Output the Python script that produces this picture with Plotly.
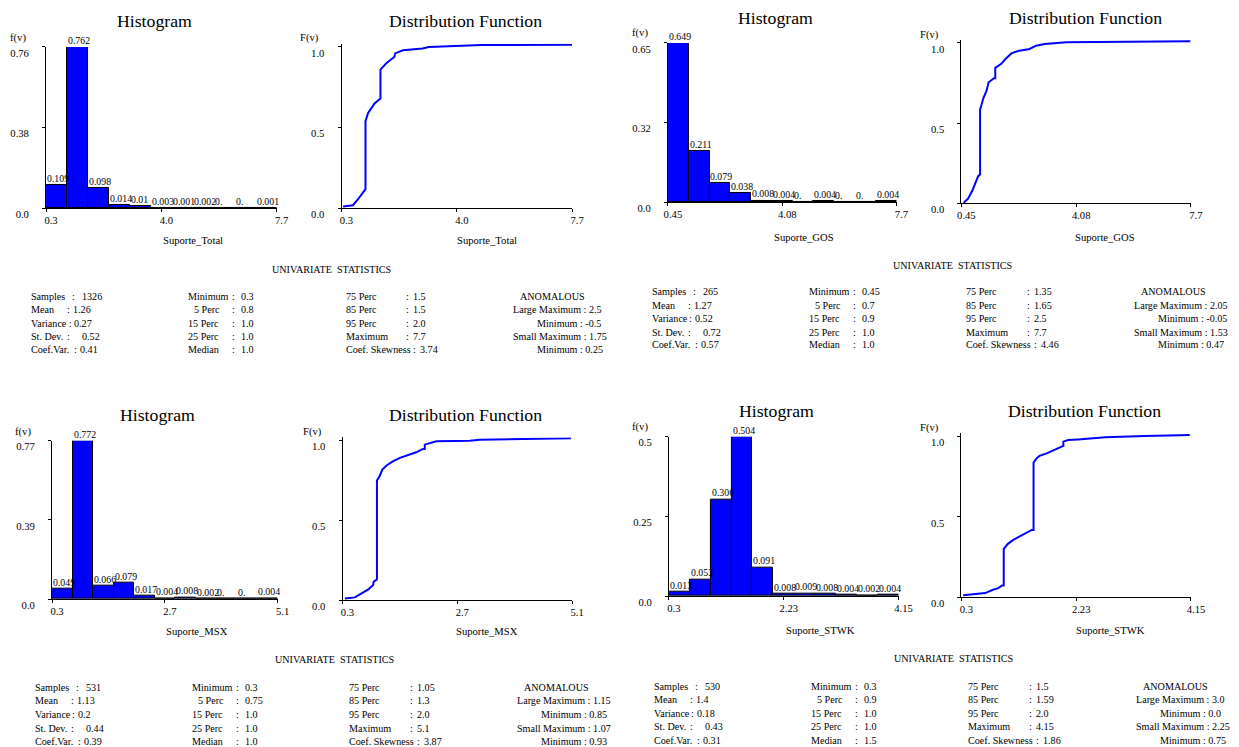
import plotly.graph_objects as go

W, H = 1239, 747
FONT = "Liberation Serif, Times New Roman, serif"
BLUE = "#0000FF"

# ---------------- data ----------------
var_names = ["Suporte_Total", "Suporte_GOS", "Suporte_MSX", "Suporte_STWK"]
x_min = [0.3, 0.45, 0.3, 0.3]
x_max = [7.7, 7.7, 5.1, 4.15]
x_tick_text = [["0.3", "4.0", "7.7"], ["0.45", "4.08", "7.7"],
               ["0.3", "2.7", "5.1"], ["0.3", "2.23", "4.15"]]
hist_y_tick_text = [["0.0", "0.38", "0.76"], ["0.0", "0.32", "0.65"],
                    ["0.0", "0.39", "0.77"], ["0.0", "0.25", "0.5"]]
cdf_y_tick_text = ["0.0", "0.5", "1.0"]

hist_total = [0.109, 0.762, 0.098, 0.014, 0.01, 0.003, 0.001, 0.002, 0.0, 0.0, 0.001]
hist_gos = [0.649, 0.211, 0.079, 0.038, 0.008, 0.004, 0.0, 0.004, 0.0, 0.0, 0.004]
hist_msx = [0.049, 0.772, 0.066, 0.079, 0.017, 0.004, 0.008, 0.002, 0.0, 0.0, 0.004]
hist_stwk = [0.013, 0.053, 0.306, 0.504, 0.091, 0.008, 0.009, 0.008, 0.004, 0.002, 0.004]

cdf_total_x = [0.35, 0.67, 0.83, 0.97, 1.05, 1.07, 1.07, 1.15, 1.36, 1.52, 1.55, 1.55,
               1.74, 2.0, 2.02, 2.27, 2.9, 3.1, 4.8, 7.7]
cdf_total_F = [0.012, 0.02, 0.057, 0.098, 0.12, 0.12, 0.54, 0.59, 0.65, 0.68, 0.68, 0.86,
               0.90, 0.94, 0.96, 0.98, 0.99, 1.0, 1.012, 1.014]
cdf_gos_x = [0.52, 0.66, 0.79, 0.89, 0.98, 1.04, 1.04, 1.08, 1.15, 1.24, 1.31, 1.48,
             1.52, 1.52, 1.71, 1.84, 2.03, 2.24, 2.6, 2.81, 3.08, 3.76, 5.6, 7.68]
cdf_gos_F = [0.004, 0.03, 0.077, 0.13, 0.17, 0.18, 0.585, 0.61, 0.66, 0.70, 0.755, 0.78,
             0.78, 0.845, 0.87, 0.90, 0.935, 0.95, 0.963, 0.983, 0.994, 1.004, 1.008, 1.01]
cdf_msx_x = [0.35, 0.56, 0.70, 0.84, 0.94, 0.95, 1.02, 1.02, 1.08, 1.13, 1.22, 1.36,
             1.50, 1.71, 1.84, 1.98, 2.02, 2.02, 2.12, 2.26, 2.96, 3.17, 5.08]
cdf_msx_F = [0.01, 0.017, 0.042, 0.067, 0.094, 0.115, 0.13, 0.75, 0.78, 0.817, 0.844, 0.871,
             0.892, 0.912, 0.927, 0.948, 0.948, 0.975, 0.983, 0.996, 1.0, 1.006, 1.015]
cdf_stwk_x = [0.33, 0.55, 0.70, 0.83, 0.92, 0.98, 1.01, 1.01, 1.08, 1.17, 1.25, 1.36,
              1.48, 1.51, 1.51, 1.56, 1.61, 1.73, 1.87, 2.0, 2.01, 2.01, 2.09, 2.26,
              2.71, 3.38, 4.13]
cdf_stwk_F = [0.012, 0.017, 0.025, 0.046, 0.056, 0.073, 0.073, 0.30, 0.332, 0.357, 0.373,
              0.398, 0.419, 0.419, 0.838, 0.865, 0.88, 0.896, 0.921, 0.942, 0.942, 0.969,
              0.979, 0.983, 0.996, 1.004, 1.01]

stat_labels_1 = ["Samples", "Mean", "Variance", "St. Dev.", "Coef.Var."]
stat_labels_2 = ["Minimum", "5 Perc", "15 Perc", "25 Perc", "Median"]
stat_labels_3 = ["75 Perc", "85 Perc", "95 Perc", "Maximum", "Coef. Skewness"]
stat_labels_4 = ["Large Maximum", "Minimum", "Small Maximum", "Minimum"]

stats_total = [["1326", "1.26", "0.27", "0.52", "0.41"],
               ["0.3", "0.8", "1.0", "1.0", "1.0"],
               ["1.5", "1.5", "2.0", "7.7", "3.74"],
               ["2.5", "-0.5", "1.75", "0.25"]]
stats_gos = [["265", "1.27", "0.52", "0.72", "0.57"],
             ["0.45", "0.7", "0.9", "1.0", "1.0"],
             ["1.35", "1.65", "2.5", "7.7", "4.46"],
             ["2.05", "-0.05", "1.53", "0.47"]]
stats_msx = [["531", "1.13", "0.2", "0.44", "0.39"],
             ["0.3", "0.75", "1.0", "1.0", "1.0"],
             ["1.05", "1.3", "2.0", "5.1", "3.87"],
             ["1.15", "0.85", "1.07", "0.93"]]
stats_stwk = [["530", "1.4", "0.18", "0.43", "0.31"],
              ["0.3", "0.9", "1.0", "1.0", "1.5"],
              ["1.5", "1.59", "2.0", "4.15", "1.86"],
              ["3.0", "0.0", "2.25", "0.75"]]

hists = [hist_total, hist_gos, hist_msx, hist_stwk]
cdfs = [(cdf_total_x, cdf_total_F), (cdf_gos_x, cdf_gos_F),
        (cdf_msx_x, cdf_msx_F), (cdf_stwk_x, cdf_stwk_F)]
stats = [stats_total, stats_gos, stats_msx, stats_stwk]

# ---------------- layout (target pixels in the picture) ----------------
hist_boxes = [(46, 277, 209, 47), (669, 898, 203, 43), (52, 278, 601, 442), (670, 900, 598, 438)]
cdf_boxes = [(342, 573, 209, 47), (963, 1193, 204, 43), (343, 573, 602, 442), (963, 1193, 599, 438)]
hist_titles = [(155, 21), (777, 18), (158, 416), (778, 412)]
cdf_titles = [(466, 21), (1087, 18), (466, 416), (1086, 412)]
hist_fv = [(8, 38), (631, 33), (13, 433), (631, 428)]
cdf_fv = [(298, 38), (920, 35), (301, 433), (920, 429)]
hist_xlab = [(193, 241), (805, 238), (197, 634), (822, 632)]
cdf_xlab = [(488, 241), (1107, 238), (488, 634), (1112, 632)]
stat_x0 = [-2, 620, 2, 622]
stat_header = [(332, 270), (954, 266), (335, 662), (955, 661)]
stat_rows_y = [[297, 310, 324, 338, 351], [292, 306, 319, 333, 346],
               [690, 703, 717, 731, 744], [689, 702, 716, 729, 743]]

CDF_TOP = 1.02
# the page keeps the browser's 8px body margin and is fitted to the window width
S = (W + 16) / W
OFF = 8
XSH = -4


def px(r):
    return ((r + XSH) * S - OFF) / W


def py(r):
    return 1 - (r * S - OFF) / H


def fs(v):
    return v * S


fig = go.Figure()
annotations = []
axes = {}


def txt(x, y, s, size=10, xanchor="left", yanchor="middle"):
    annotations.append(dict(x=px(x), y=py(y), xref="paper", yref="paper", text=s,
                            showarrow=False, xanchor=xanchor, yanchor=yanchor,
                            font=dict(family=FONT, size=fs(size), color="black")))


def axis_common():
    return dict(showline=True, linecolor="black", linewidth=1, ticks="outside",
                ticklen=3, tickcolor="black", tickwidth=1, showgrid=False, zeroline=False,
                tickfont=dict(family=FONT, size=fs(10.5), color="black"), fixedrange=True)


for i in range(4):
    # ---------- histogram ----------
    n = 2 * i + 1
    xr = "x" if n == 1 else f"x{n}"
    yr = "y" if n == 1 else f"y{n}"
    x0p, x1p, y0p, y1p = hist_boxes[i]
    vals = hists[i]
    nb = len(vals)
    bw = (x_max[i] - x_min[i]) / nb
    lefts = [x_min[i] + k * bw for k in range(nb)]
    centers = [l + bw / 2 for l in lefts]
    fig.add_trace(go.Bar(x=centers, y=vals, width=[bw] * nb, xaxis=xr, yaxis=yr,
                         marker=dict(color=BLUE, line=dict(color="black", width=1)),
                         cliponaxis=False, showlegend=False, hoverinfo="skip"))
    ymax = max(vals)
    for l, v in zip(lefts, vals):
        lab = "0." if v == 0 else f"{v:g}"
        annotations.append(dict(x=l, y=v, xref=xr, yref=yr, text=lab, showarrow=False,
                                xanchor="left", yanchor="bottom", xshift=-1, yshift=-1,
                                font=dict(family=FONT, size=fs(9.7), color="black")))
    xa = axis_common()
    xa.update(domain=[px(x0p), px(x1p)], range=[x_min[i], x_max[i]], anchor=yr,
              tickvals=[x_min[i], (x_min[i] + x_max[i]) / 2, x_max[i]],
              ticktext=x_tick_text[i], ticklabelshift=5, ticklabelstandoff=-1)
    ya = axis_common()
    ya.update(domain=[py(y0p), py(y1p)], range=[0, ymax], anchor=xr,
              tickvals=[0, ymax / 2, ymax], ticktext=hist_y_tick_text[i],
              ticklabelshift=6, ticklabelstandoff=11)
    axes["xaxis" if n == 1 else f"xaxis{n}"] = xa
    axes["yaxis" if n == 1 else f"yaxis{n}"] = ya
    txt(*hist_titles[i], "Histogram", size=17.5, xanchor="center")
    txt(*hist_fv[i], "f(v)", size=10.5)
    txt(*hist_xlab[i], var_names[i], size=10.5, xanchor="center")

    # ---------- distribution function ----------
    n = 2 * i + 2
    xr = f"x{n}"
    yr = f"y{n}"
    x0p, x1p, y0p, y1p = cdf_boxes[i]
    top = y1p - (CDF_TOP - 1) * (y0p - y1p)
    cx, cF = cdfs[i]
    fig.add_trace(go.Scatter(x=cx, y=cF, mode="lines", xaxis=xr, yaxis=yr,
                             line=dict(color=BLUE, width=2), showlegend=False,
                             hoverinfo="skip"))
    xa = axis_common()
    xa.update(domain=[px(x0p), px(x1p)], range=[x_min[i], x_max[i]], anchor=yr,
              tickvals=[x_min[i], (x_min[i] + x_max[i]) / 2, x_max[i]],
              ticktext=x_tick_text[i], ticklabelshift=5, ticklabelstandoff=-1)
    ya = axis_common()
    ya.update(domain=[py(y0p), py(top)], range=[0, CDF_TOP], anchor=xr,
              tickvals=[0, 0.5, 1.0], ticktext=cdf_y_tick_text,
              ticklabelshift=6, ticklabelstandoff=11)
    axes[f"xaxis{n}"] = xa
    axes[f"yaxis{n}"] = ya
    txt(*cdf_titles[i], "Distribution Function", size=17.5, xanchor="center")
    txt(*cdf_fv[i], "F(v)", size=10.5)
    txt(*cdf_xlab[i], var_names[i], size=10.5, xanchor="center")

    # ---------- univariate statistics ----------
    x0 = stat_x0[i]
    rows = stat_rows_y[i]
    s1, s2, s3, s4 = stats[i]
    txt(*stat_header[i], "UNIVARIATE\u00a0\u00a0STATISTICS", size=10, xanchor="center")
    c1_colon = [72, 67, 68.5, 67, 74]
    c1_val = [82, 73, 74.5, 82, 80]
    for r in range(5):
        y = rows[r]
        txt(x0 + 31, y, stat_labels_1[r])
        txt(x0 + c1_colon[r], y, ":")
        txt(x0 + c1_val[r], y, s1[r])
        txt(x0 + (194 if r == 1 else 188), y, stat_labels_2[r])
        txt(x0 + 232, y, ":")
        txt(x0 + 241, y, s2[r])
        txt(x0 + 346, y, stat_labels_3[r])
        if r < 4:
            txt(x0 + 407, y, ":")
            txt(x0 + 414, y, s3[r])
        else:
            txt(x0 + 414, y, ":")
            txt(x0 + 421, y, s3[r])
    txt(x0 + 521, rows[0], "ANOMALOUS")
    for r in range(4):
        lx = x0 + (514 if r % 2 == 0 else 538)
        txt(lx, rows[r + 1], f"{stat_labels_4[r]} : {s4[r]}")

fig.update_layout(width=W, height=H, autosize=False,
                  margin=dict(l=0, r=0, t=0, b=0, pad=0),
                  paper_bgcolor="white", plot_bgcolor="white",
                  showlegend=False, bargap=0, annotations=annotations, **axes)

fig.write_html("out.html", config={"displayModeBar": False})
